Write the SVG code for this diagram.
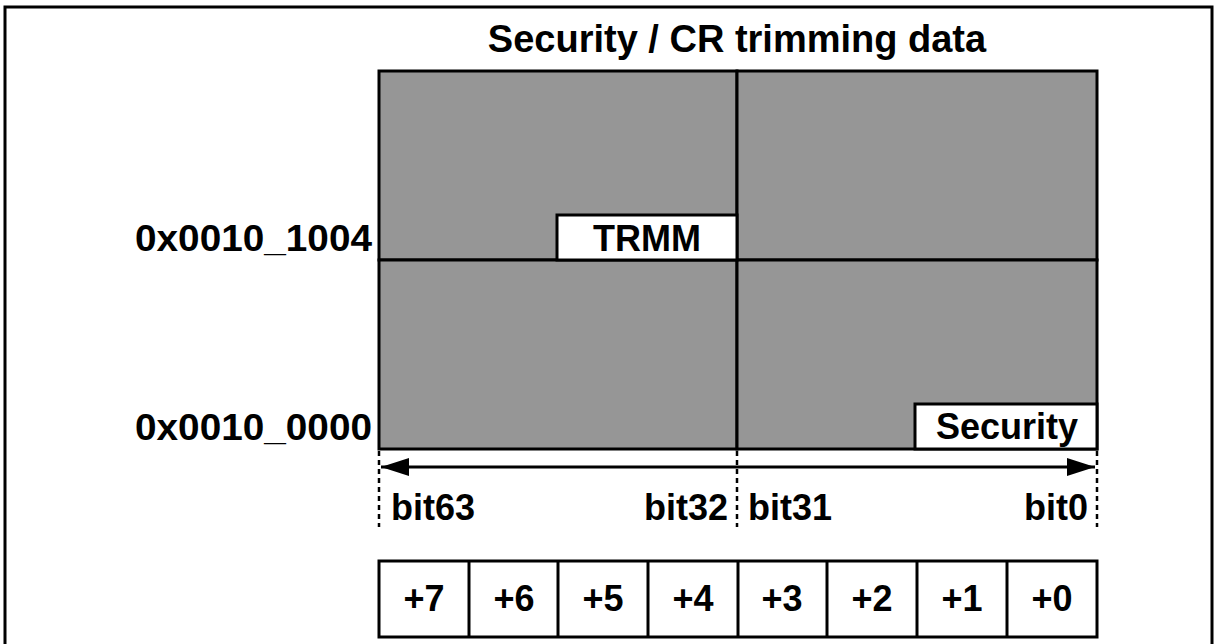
<svg xmlns="http://www.w3.org/2000/svg" width="1215" height="644" viewBox="0 0 1215 644">
<style>
  text { font-family: "Liberation Sans", Arial, sans-serif; font-weight: bold; fill: #000; }
  .lbl { font-size: 36px; }
  .title { font-size: 38px; }
  .cell { fill: #969696; stroke: #000; stroke-width: 3; }
  .wbox { fill: #fff; stroke: #000; stroke-width: 3; }
  .dash { stroke: #000; stroke-width: 2.5; stroke-dasharray: 5 4; fill: none; }
</style>
<defs>
  <marker id="ah" viewBox="0 0 28 18" refX="28" refY="9" markerWidth="28" markerHeight="18" markerUnits="userSpaceOnUse" orient="auto-start-reverse">
    <path d="M0,0 L28,9 L0,18 Z" fill="#000"/>
  </marker>
</defs>
<rect x="0" y="0" width="1215" height="644" fill="#fff"/>
<rect x="5" y="7" width="1207" height="660" fill="none" stroke="#000" stroke-width="3"/>
<text class="title" x="737" y="52" text-anchor="middle">Security / CR trimming data</text>

<g id="memory">
  <rect class="cell" x="379" y="71" width="358" height="189"/>
  <rect class="cell" x="737" y="71" width="360" height="189"/>
  <rect class="cell" x="379" y="260" width="358" height="189"/>
  <rect class="cell" x="737" y="260" width="360" height="189"/>
</g>
<g id="trmm">
  <rect class="wbox" x="557" y="215" width="180" height="45"/>
  <text class="lbl" x="647" y="251" text-anchor="middle">TRMM</text>
</g>
<g id="security">
  <rect class="wbox" x="915" y="404" width="182" height="45"/>
  <text class="lbl" x="1007" y="439" text-anchor="middle">Security</text>
</g>
<g id="addr">
  <text class="lbl" x="372" y="251" text-anchor="end" textLength="237" lengthAdjust="spacingAndGlyphs">0x0010_1004</text>
  <text class="lbl" x="372" y="440" text-anchor="end" textLength="237" lengthAdjust="spacingAndGlyphs">0x0010_0000</text>
</g>

<g id="connectors">
  <line class="dash" x1="379" y1="451" x2="379" y2="527"/>
  <line class="dash" x1="737" y1="451" x2="737" y2="527"/>
  <line class="dash" x1="1097" y1="451" x2="1097" y2="527"/>
  <line x1="381" y1="467" x2="1095" y2="467" stroke="#000" stroke-width="3" marker-start="url(#ah)" marker-end="url(#ah)"/>
</g>

<g id="bits">
  <text class="lbl" x="391" y="520">bit63</text>
  <text class="lbl" x="728" y="520" text-anchor="end">bit32</text>
  <text class="lbl" x="748" y="520">bit31</text>
  <text class="lbl" x="1088" y="520" text-anchor="end">bit0</text>
</g>

<g id="bytes">
  <rect class="wbox" x="379" y="561" width="718" height="76"/>
  <line x1="469" y1="561" x2="469" y2="637" stroke="#000" stroke-width="3"/>
  <line x1="558" y1="561" x2="558" y2="637" stroke="#000" stroke-width="3"/>
  <line x1="648" y1="561" x2="648" y2="637" stroke="#000" stroke-width="3"/>
  <line x1="738" y1="561" x2="738" y2="637" stroke="#000" stroke-width="3"/>
  <line x1="827" y1="561" x2="827" y2="637" stroke="#000" stroke-width="3"/>
  <line x1="917" y1="561" x2="917" y2="637" stroke="#000" stroke-width="3"/>
  <line x1="1007" y1="561" x2="1007" y2="637" stroke="#000" stroke-width="3"/>
  <text class="lbl" x="424" y="611" text-anchor="middle">+7</text>
  <text class="lbl" x="514" y="611" text-anchor="middle">+6</text>
  <text class="lbl" x="603" y="611" text-anchor="middle">+5</text>
  <text class="lbl" x="693" y="611" text-anchor="middle">+4</text>
  <text class="lbl" x="782" y="611" text-anchor="middle">+3</text>
  <text class="lbl" x="872" y="611" text-anchor="middle">+2</text>
  <text class="lbl" x="962" y="611" text-anchor="middle">+1</text>
  <text class="lbl" x="1052" y="611" text-anchor="middle">+0</text>
</g>
</svg>
